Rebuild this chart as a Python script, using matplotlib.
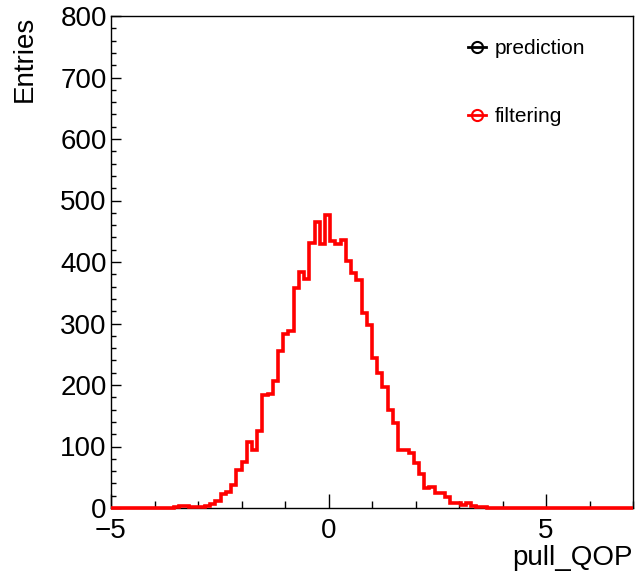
import numpy as np
import matplotlib
matplotlib.use("Agg")
import matplotlib.pyplot as plt
from matplotlib.lines import Line2D

plt.rcParams['font.family'] = ['Liberation Sans', 'DejaVu Sans']

# Histogram binning: 100 bins over [-5, 7]
x_min, x_max, n_bins = -5.0, 7.0, 100

# Bin contents of the pull distribution (filtering)
filtering_counts = [
    0, 0, 0, 0, 0, 0, 0, 0, 0, 0,
    0, 0, 1, 3, 3, 1, 2, 2, 4, 7,
    12, 22, 26, 38, 62, 75, 108, 95, 126, 183,
    185, 207, 256, 283, 288, 357, 384, 372, 431, 465,
    430, 477, 434, 430, 435, 402, 382, 371, 317, 297,
    244, 220, 197, 159, 139, 94, 94, 90, 73, 55,
    32, 34, 24, 24, 18, 8, 8, 5, 8, 4,
    2, 1, 0, 0, 0, 0, 0, 0, 0, 0,
    0, 0, 0, 0, 0, 0, 0, 0, 0, 0,
    0, 0, 0, 0, 0, 0, 0, 0, 0, 0,
]
# Prediction histogram coincides with the filtering one (drawn underneath)
prediction_counts = list(filtering_counts)

series_labels = ["prediction", "filtering"]
x_title = "pull_QOP"
y_title = "Entries"

edges = np.linspace(x_min, x_max, n_bins + 1)

W, H = 635, 578
fig = plt.figure(figsize=(W / 100, H / 100), dpi=100)
left, right, top, bottom = 111, 633, 16, 508
ax = fig.add_axes([left / W, 1 - bottom / H, (right - left) / W, (bottom - top) / H])

lw = 2.6
ax.stairs(prediction_counts, edges, color="black", linewidth=1.2, baseline=None,
          zorder=3, clip_on=False)
ax.stairs(filtering_counts, edges, color="red", linewidth=lw, baseline=None,
          zorder=4, clip_on=False)

ax.set_xlim(x_min, x_max)
ax.set_ylim(0, 800)

ax.set_xticks([-5, 0, 5])
ax.set_xticks(np.arange(-5, 8, 1), minor=True)
ax.set_yticks(np.arange(0, 801, 100))
ax.set_yticks(np.arange(0, 801, 20), minor=True)

ax.tick_params(axis='both', which='both', direction='in', top=False, right=False,
               labelsize=20, width=1.0, color='black')
ax.tick_params(axis='x', which='major', length=10, pad=7)
ax.tick_params(axis='x', which='minor', length=5)
ax.tick_params(axis='y', which='major', length=7, pad=3)
ax.tick_params(axis='y', which='minor', length=3.5)

for s in ax.spines.values():
    s.set_linewidth(1.0)

ax.text(1.0, -0.075, x_title, transform=ax.transAxes, ha='right', va='top', fontsize=20)
fig.text(25 / W, 1 - top / H, y_title, rotation=90, ha='center', va='top', fontsize=20)

handles = [
    Line2D([], [], color="black", linewidth=2, marker='o', markersize=8,
           markerfacecolor='none', markeredgewidth=1.5),
    Line2D([], [], color="red", linewidth=2, marker='o', markersize=8,
           markerfacecolor='none', markeredgewidth=1.5),
]
leg = ax.legend(handles, series_labels, loc='upper left',
                bbox_to_anchor=((468 - left) / (right - left), (bottom - 39) / (bottom - top)),
                frameon=False, fontsize=15, borderpad=0, borderaxespad=0,
                handlelength=0.85, handletextpad=0.45, labelspacing=2.35)

fig.savefig("out.png", dpi=100)
